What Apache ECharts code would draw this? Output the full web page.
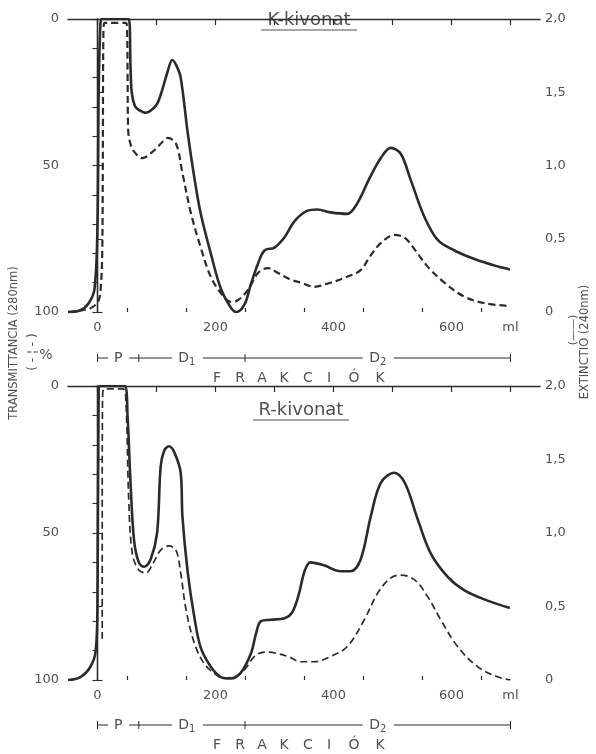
<!DOCTYPE html>
<html><head><meta charset="utf-8">
<script src="https://cdn.jsdelivr.net/npm/echarts@6/dist/echarts.min.js"></script>
<style>html,body{margin:0;padding:0;background:#fff}#c{width:596px;height:754px}</style>
</head><body><div id="c"></div>
<script>
// ---- data (ml of effluent vs. readings) ----
const kSolidMl  = [-50,-30,-15,-5,0,2,5,8,53,56,58,63,70,82,92,101,110,118,127,134,141,153,164,175,192,209,226,235,249,260,272,283,300,317,334,355,372,395,423,440,462,480,497,514,531,554,577,605,640,679,699];
const kSolidExt = [0,0.01,0.06,0.16,0.6,1.5,1.97,2.0,2.0,1.67,1.5,1.41,1.38,1.36,1.38,1.42,1.52,1.63,1.72,1.68,1.6,1.22,0.92,0.67,0.4,0.16,0.03,0,0.05,0.19,0.33,0.42,0.44,0.51,0.62,0.69,0.7,0.68,0.67,0.74,0.92,1.05,1.12,1.08,0.9,0.65,0.49,0.42,0.36,0.31,0.29];
const kDashMl    = [-50,-30,-10,2,6,8,9,10,12,48,50,51,52,55,61,76,95,110,119,133,144,158,175,192,209,226,238,255,272,289,306,328,345,367,395,423,446,462,480,503,521,538,560,588,622,656,700];
const kDashTrans = [100,99.5,98.5,96,90,80,50,5,1.3,1.3,3,20,38,42,45,47.5,45,42,40.6,42.5,52.6,66,78,88,93.5,96.5,96,92.5,86.7,85,86.7,89,90,91.4,90,88,85.7,81,76.5,73.7,74.7,78.8,84.6,90,94.8,97,98];
const rSolidMl  = [-50,-29,-12,-3,0,2,5,46,51,56,62,70,79,90,101,107,113,121,130,141,144,153,164,175,192,209,226,243,260,269,277,294,317,330,341,351,361,384,412,429,446,463,480,503,521,543,565,594,622,661,699];
const rSolidExt = [0,0.02,0.09,0.2,0.54,1.98,2.0,2.0,1.79,1.34,0.95,0.8,0.77,0.82,1.0,1.45,1.56,1.59,1.55,1.41,1.11,0.73,0.43,0.22,0.09,0.02,0.01,0.05,0.18,0.32,0.4,0.41,0.42,0.46,0.58,0.74,0.8,0.78,0.74,0.74,0.82,1.11,1.34,1.41,1.34,1.09,0.86,0.7,0.61,0.54,0.49];
const rDashMl    = [8,8,8.5,11,43,48,53,59,70,82,95,107,121,133,141,150,164,180,197,214,231,249,266,283,300,323,345,367,395,423,452,475,497,514,538,560,582,611,645,679,700];
const rDashTrans = [86,40,5,1,1,4.8,39,57,62.6,63.6,60,55.8,54.4,55.8,63.6,76,87.4,94.2,97.6,99.3,99,96.6,92,90.5,90.8,92,93.8,93.8,92,88.7,79.6,70.4,65.3,64.3,66,71.8,79.6,88.8,95.6,99,100];
// ---- tick labels ----
const xLabelValues = [0,200,400,600,700];
const xLabelTexts  = ['0','200','400','600','ml'];
const xMajorTicks  = [0,100,200,300,400,500,600,700];
const xMinorTicks  = [50,150,250,350,450,550,650];
const leftLabelValues  = [0,50,100];
const rightLabelValues = [0,0.5,1,1.5,2];
// ---- fractions ----
const fractionBounds = [0,70,250,700];
const fractionNames  = ['P','D1','D2'];
const panelTitles    = ['K-kivonat','R-kivonat'];
const axisNameLeft   = 'TRANSMITTANCIA (280nm)';
const axisNameRight  = 'EXTINCTIO (240nm)';
const xTitleLetters  = ['F','R','A','K','C','I','Ó','K'];

const FONT = 'DejaVu Sans';
const TXT = '#505050';
const LINE = '#2b2b2b';
const chart = echarts.init(document.getElementById('c'), null, {renderer:'canvas'});

const grids = [
  {left:68, top:19, width:472, height:293},
  {left:68, top:386, width:472, height:294}
];
const xAxes = [], yAxes = [];
grids.forEach((g, gi) => {
  xAxes.push({type:'value', gridIndex:gi, min:-50, max:750, interval:50, position:'bottom',
    axisLine:{show:true, lineStyle:{color:LINE, width:1.3}}, splitLine:{show:false},
    axisTick:{show:true, length:6, customValues:xMajorTicks, lineStyle:{color:LINE, width:1.2}},
    axisLabel:{customValues:xLabelValues, formatter:v => xLabelTexts[xLabelValues.indexOf(v)] ?? '', color:TXT, fontSize:13, margin:9, fontFamily:FONT}});
  xAxes.push({type:'value', gridIndex:gi, min:-50, max:750, interval:50, position:'bottom', offset:0,
    axisLine:{show:false}, splitLine:{show:false},
    axisTick:{show:true, inside:true, length:4, customValues:xMinorTicks, lineStyle:{color:LINE, width:1.2}},
    axisLabel:{show:false}});
  yAxes.push({type:'value', gridIndex:gi, inverse:true, min:0, max:100, interval:10, position:'left',
    axisLine:{show:true, lineStyle:{color:LINE, width:1.3}}, splitLine:{show:false},
    axisTick:{show:true, length:5, lineStyle:{color:LINE, width:1.1}},
    axisLabel:{customValues:leftLabelValues, color:TXT, fontSize:13, margin:9, fontFamily:FONT}});
  yAxes.push({type:'value', gridIndex:gi, min:0, max:2, interval:0.5, position:'right',
    axisLine:{show:true, lineStyle:{color:LINE, width:1.3}}, splitLine:{show:false},
    axisTick:{show:true, length:5, lineStyle:{color:LINE, width:1.1}},
    axisLabel:{customValues:rightLabelValues, formatter:v => v===0 ? '0' : v.toFixed(1).replace('.', ','), color:TXT, fontSize:13, margin:5, fontFamily:FONT}});
});

const zip = (a,b) => a.map((v,i) => [v,b[i]]);
function solid(gi, ml, vals){ return {type:'line', xAxisIndex:gi*2, yAxisIndex:gi*2+1, data:zip(ml,vals), showSymbol:false, smooth:0.35, lineStyle:{color:LINE, width:2.6}, z:3}; }
function dashed(gi, ml, vals, w){ return {type:'line', xAxisIndex:gi*2, yAxisIndex:gi*2, data:zip(ml,vals), showSymbol:false, smooth:0.35, lineStyle:{color:LINE, width:w, type:[7,4]}, z:2}; }

chart.setOption({
  animation:false, backgroundColor:'#fff',
  grid:grids, xAxis:xAxes, yAxis:yAxes,
  series:[solid(0,kSolidMl,kSolidExt), dashed(0,kDashMl,kDashTrans,2.2), solid(1,rSolidMl,rSolidExt), dashed(1,rDashMl,rDashTrans,1.7)]
});

// ---- annotations ----
const gr = [];
const bracketY = [358, 725];
const lettersY = [378, 745];
const letterX = [217,240,262,284,308,329,354,380];
const titleY = [20, 410];
const titleX = [309, 301];
grids.forEach((g, gi) => {
  const px = v => chart.convertToPixel({xAxisIndex:gi*2}, v);
  const y = bracketY[gi];
  const ls = {stroke:LINE, lineWidth:1};
  fractionBounds.forEach(b => {
    const x = px(b);
    gr.push({type:'line', shape:{x1:x, y1:y-4, x2:x, y2:y+4}, style:ls});
  });
  for (let i = 0; i < fractionNames.length; i++) {
    const a = px(fractionBounds[i]), b = px(fractionBounds[i+1]);
    const mid = px((fractionBounds[i] + fractionBounds[i+1]) / 2) - (i===1 ? 5 : 0);
    const half = fractionNames[i].length > 1 ? 13 : 8;
    gr.push({type:'line', shape:{x1:a, y1:y, x2:mid-half-2, y2:y}, style:ls});
    gr.push({type:'line', shape:{x1:mid+half+3, y1:y, x2:b, y2:y}, style:ls});
    const n = fractionNames[i];
    gr.push({type:'text', x:mid, y:y, style:{text: n.length>1 ? '{a|'+n[0]+'}{s|'+n.slice(1)+'}' : '{a|'+n+'}', align:'center', verticalAlign:'middle',
      rich:{a:{fontSize:14, fontFamily:FONT, fill:TXT}, s:{fontSize:10, fontFamily:FONT, fill:TXT, verticalAlign:'bottom', padding:[8,0,0,0]}}}});
  }
  xTitleLetters.forEach((l, i) => {
    gr.push({type:'text', x:letterX[i], y:lettersY[gi], style:{text:l, fontSize:14, fontFamily:FONT, fill:TXT, align:'center', verticalAlign:'middle'}});
  });
  gr.push({type:'text', x:titleX[gi], y:titleY[gi], style:{text:panelTitles[gi], fontSize:18, fontFamily:FONT, fill:TXT, align:'center', verticalAlign:'middle'}});
  gr.push({type:'line', shape:{x1:titleX[gi]-48, y1:titleY[gi]+10, x2:titleX[gi]+48, y2:titleY[gi]+10}, style:{stroke:TXT, lineWidth:1}});
});
gr.push({type:'text', x:14, y:343, rotation:Math.PI/2, style:{text:axisNameLeft, fontSize:11.5, fontFamily:FONT, fill:TXT, align:'center', verticalAlign:'middle'}});
gr.push({type:'text', x:33, y:352, rotation:Math.PI/2, style:{text:'( - ¦ - )', fontSize:12, fontFamily:FONT, fill:TXT, align:'center', verticalAlign:'middle'}});
gr.push({type:'text', x:46, y:355, style:{text:'%', fontSize:14, fontFamily:FONT, fill:TXT, align:'center', verticalAlign:'middle'}});
gr.push({type:'text', x:585, y:342, rotation:Math.PI/2, style:{text:axisNameRight, fontSize:11.5, fontFamily:FONT, fill:TXT, align:'center', verticalAlign:'middle'}});
gr.push({type:'text', x:573, y:330, rotation:Math.PI/2, style:{text:'(——)', fontSize:11, fontFamily:FONT, fill:TXT, align:'center', verticalAlign:'middle'}});
chart.setOption({graphic:gr});
</script></body></html>
